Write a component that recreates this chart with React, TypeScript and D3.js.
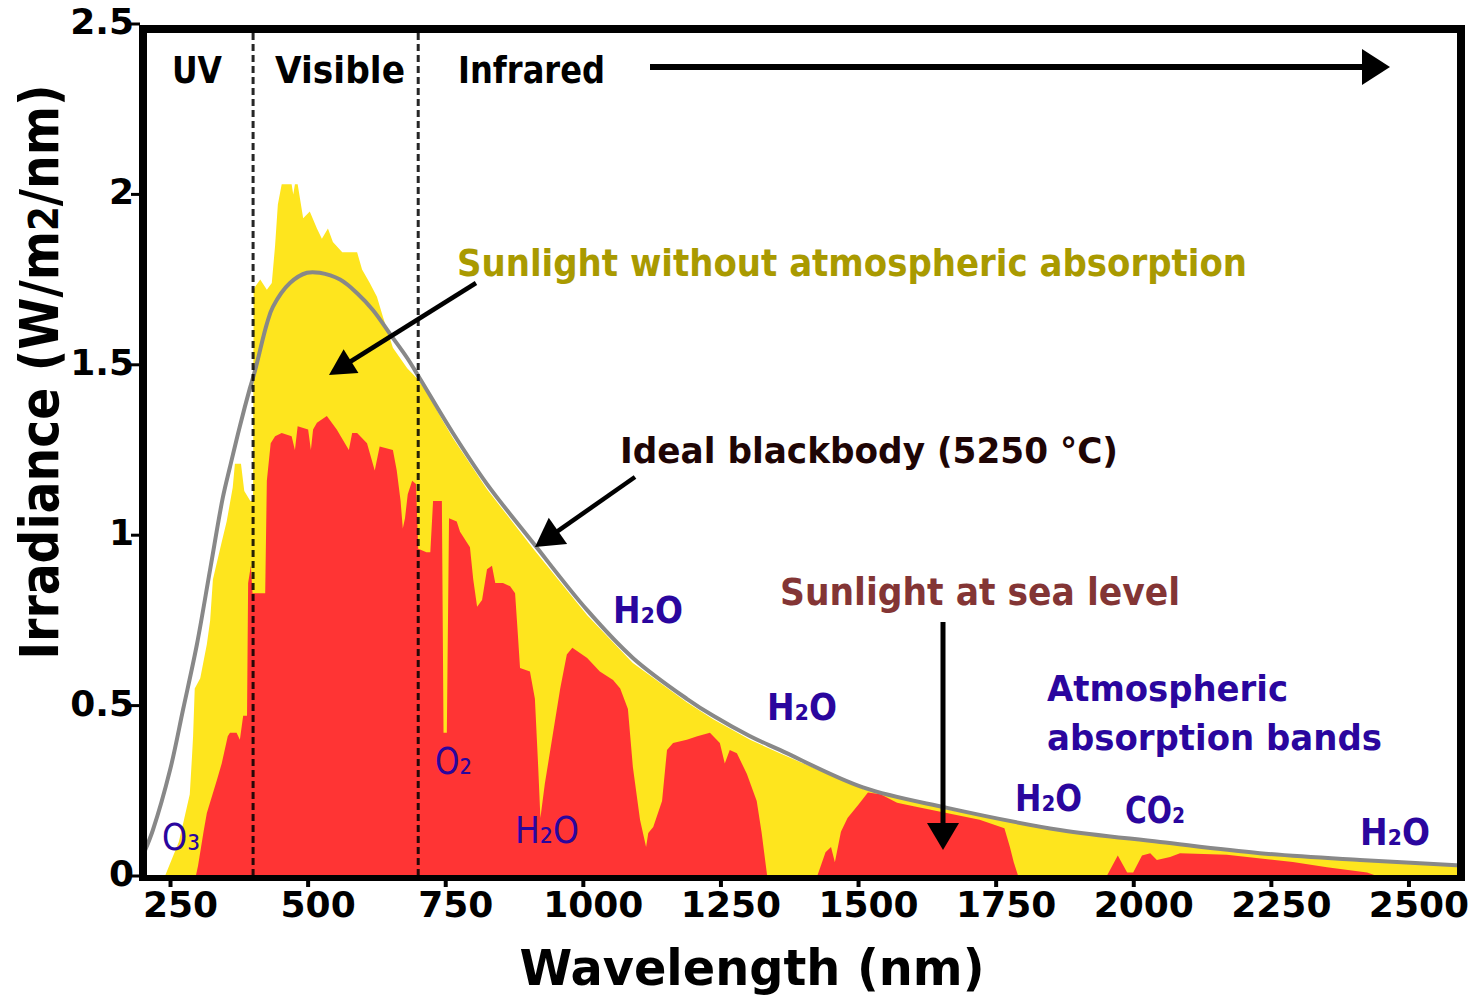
import React from "react";
import * as d3 from "d3";

// Spectral irradiance readings, [wavelength nm, W/m2/nm]
const blackbody: [number, number][] = [
  [204, 0.076], [218, 0.135], [249, 0.31], [273, 0.49], [298, 0.68], [322, 0.9],
  [345, 1.11], [358, 1.2], [376, 1.32], [394, 1.43], [403, 1.48], [425, 1.62],
  [436, 1.67], [467, 1.74], [498, 1.77], [521, 1.77], [558, 1.75], [589, 1.71],
  [618, 1.66], [649, 1.59], [680, 1.52], [703, 1.46], [763, 1.3], [825, 1.15],
  [909, 0.977], [1007, 0.78], [1090, 0.64], [1188, 0.52], [1236, 0.47], [1303, 0.41],
  [1357, 0.37], [1508, 0.26], [1661, 0.2], [1866, 0.135], [2048, 0.1], [2229, 0.067],
  [2411, 0.047], [2596, 0.031],
];

const topOfAtmosphere: [number, number][] = [
  [240, 0], [254, 0.056], [265, 0.1], [273, 0.155], [285, 0.24], [289, 0.35],
  [291, 0.41], [294, 0.55], [304, 0.58], [316, 0.68], [322, 0.75], [327, 0.87],
  [343, 0.98], [352, 1.04], [363, 1.14], [367, 1.21], [378, 1.21], [384, 1.13],
  [395, 1.1], [400, 1.1], [401, 1.72], [404, 1.73], [413, 1.75], [425, 1.72],
  [434, 1.74], [440, 1.85], [445, 1.97], [452, 2.03], [470, 2.03], [473, 2.0],
  [476, 2.03], [481, 2.03], [491, 1.93], [503, 1.95], [516, 1.9], [525, 1.87],
  [536, 1.9], [545, 1.86], [562, 1.83], [589, 1.83], [598, 1.78], [612, 1.74],
  [625, 1.7], [636, 1.64], [654, 1.55], [680, 1.49], [698, 1.46], [716, 1.42],
  [743, 1.34], [763, 1.285], [825, 1.135], [909, 0.96], [1007, 0.765], [1090, 0.625],
  [1188, 0.51], [1236, 0.46], [1303, 0.4], [1357, 0.36], [1508, 0.255], [1661, 0.195],
  [1866, 0.132], [2048, 0.098], [2229, 0.066], [2411, 0.046], [2600, 0.03],
];

const seaLevel: [number, number][] = [
  [296, 0], [300, 0.03], [310, 0.13], [316, 0.185], [334, 0.28], [343, 0.33],
  [354, 0.41], [358, 0.42], [370, 0.42], [376, 0.4], [382, 0.47], [389, 0.47],
  [391, 0.86], [396, 0.91], [399, 0.83], [412, 0.83], [422, 0.83], [425, 1.16],
  [432, 1.27], [440, 1.29], [452, 1.3], [470, 1.29], [476, 1.25], [481, 1.32],
  [500, 1.31], [505, 1.25], [509, 1.31], [516, 1.33], [534, 1.35], [552, 1.31],
  [574, 1.25], [580, 1.3], [589, 1.3], [607, 1.27], [621, 1.19], [630, 1.26],
  [654, 1.25], [661, 1.19], [668, 1.1], [672, 1.02], [676, 1.05], [681, 1.12],
  [689, 1.16], [696, 1.15], [700, 0.96], [715, 0.95], [722, 0.95], [727, 1.1],
  [743, 1.1], [746, 0.42], [752, 0.42], [756, 1.05], [770, 1.04], [776, 1.01],
  [794, 0.965], [800, 0.87], [807, 0.79], [816, 0.81], [825, 0.9], [834, 0.91],
  [840, 0.86], [854, 0.86], [867, 0.85], [876, 0.83], [881, 0.71], [885, 0.61],
  [903, 0.6], [912, 0.52], [918, 0.32], [922, 0.17], [930, 0.27], [945, 0.42],
  [958, 0.55], [970, 0.65], [980, 0.67], [1007, 0.64], [1030, 0.6], [1054, 0.575],
  [1067, 0.55], [1081, 0.49], [1090, 0.32], [1103, 0.165], [1114, 0.085], [1118, 0.126],
  [1127, 0.144], [1143, 0.22], [1152, 0.37], [1163, 0.39], [1188, 0.4], [1207, 0.41],
  [1230, 0.42], [1248, 0.39], [1257, 0.33], [1266, 0.37], [1279, 0.36], [1297, 0.3],
  [1315, 0.22], [1324, 0.126], [1334, 0], [1425, 0], [1440, 0.07], [1450, 0.085],
  [1457, 0.04], [1468, 0.13], [1480, 0.17], [1500, 0.21], [1517, 0.245], [1540, 0.24],
  [1570, 0.215], [1600, 0.205], [1660, 0.185], [1720, 0.165], [1765, 0.14], [1775, 0.085],
  [1782, 0.04], [1790, 0], [1951, 0], [1971, 0.06], [1988, 0.01], [1999, 0.01],
  [2015, 0.06], [2030, 0.067], [2042, 0.047], [2066, 0.056], [2084, 0.067], [2169, 0.062],
  [2289, 0.041], [2351, 0.026], [2424, 0.01], [2442, 0],
];

const wavelengthTicks = [250, 500, 750, 1000, 1250, 1500, 1750, 2000, 2250, 2500];
const irradianceTicks = [0, 0.5, 1, 1.5, 2, 2.5];
const irradianceLabels = ["0", "0.5", "1", "1.5", "2", "2.5"];
const bandEdges = [400, 700];

const FONT = "'DejaVu Sans', Verdana, sans-serif";
const BLUE = "#2a069e";

// Chemical formula label, subscripts written with Unicode subscript digits
function Chem({ x, y, label, width, bold = true, size = 38 }:
  { x: number; y: number; label: string; width: number; bold?: boolean; size?: number }) {
  return (
    <text x={x} y={y} fill={BLUE} fontFamily={FONT} fontWeight={bold ? 700 : 400} fontSize={size}
      textLength={width} lengthAdjust="spacingAndGlyphs">{label}</text>
  );
}

function Arrow({ x1, y1, x2, y2, len, width, sw }:
  { x1: number; y1: number; x2: number; y2: number; len: number; width: number; sw: number }) {
  const dx = x2 - x1, dy = y2 - y1;
  const d = Math.hypot(dx, dy);
  const ux = dx / d, uy = dy / d;
  const bx = x2 - ux * len, by = y2 - uy * len;
  const px = -uy * width / 2, py = ux * width / 2;
  return (
    <g>
      <line x1={x1} y1={y1} x2={bx + ux * 2} y2={by + uy * 2} stroke="#000" strokeWidth={sw} />
      <polygon points={`${x2},${y2} ${bx + px},${by + py} ${bx - px},${by - py}`} fill="#000" />
    </g>
  );
}

export default function App() {
  const x = d3.scaleLinear().domain([200, 2600]).range([143, 1464]);
  const y = d3.scaleLinear().domain([0, 2.5]).range([876, 24]);

  const area = d3.area<[number, number]>()
    .x((d) => x(d[0])).y0(y(0)).y1((d) => y(d[1]));
  const line = d3.line<[number, number]>()
    .x((d) => x(d[0])).y((d) => y(d[1])).curve(d3.curveCatmullRom.alpha(0.5));

  return (
    <svg width={1481} height={997} style={{ position: "absolute", left: 0, top: 0, display: "block" }}
      fontFamily={FONT}>
      <rect width={1481} height={997} fill="#fff" />
      <defs>
        <clipPath id="plot">
          <rect x={143} y={29} width={1318} height={849} />
        </clipPath>
      </defs>

      <g clipPath="url(#plot)">
        <path d={area(topOfAtmosphere) ?? ""} fill="#fee51e" />
        <path d={area(seaLevel) ?? ""} fill="#ff3434" />
        <path d={line(blackbody) ?? ""} fill="none" stroke="#888" strokeWidth={4} />
        {bandEdges.map((b) => (
          <line key={b} x1={x(b)} x2={x(b)} y1={33} y2={876} stroke="#000" strokeOpacity={0.85}
            strokeWidth={3} strokeDasharray="7 4" />
        ))}
      </g>

      {/* frame */}
      <g stroke="#000">
        <line x1={143} x2={143} y1={25} y2={881} strokeWidth={8} />
        <line x1={139} x2={1465} y1={29} y2={29} strokeWidth={8} />
        <line x1={1461} x2={1461} y1={25} y2={881} strokeWidth={8} />
        <line x1={139} x2={1465} y1={878} y2={878} strokeWidth={6} />
      </g>

      {/* y axis */}
      {irradianceTicks.map((t, i) => (
        <g key={t}>
          <line x1={131} x2={140} y1={y(t)} y2={y(t)} stroke="#000" strokeWidth={3} />
          <text x={134} y={y(t) + 10} textAnchor="end" fontSize={36} fontWeight={700}>
            {irradianceLabels[i]}
          </text>
        </g>
      ))}

      {/* x axis */}
      {wavelengthTicks.map((t) => (
        <g key={t}>
          <line x1={x(t)} x2={x(t)} y1={880} y2={887} stroke="#000" strokeWidth={4} />
          <text x={x(t) + 10} y={917} textAnchor="middle" fontSize={36} fontWeight={700}>{t}</text>
        </g>
      ))}

      <text x={752} y={985} textAnchor="middle" fontSize={50} fontWeight={700}
        textLength={465} lengthAdjust="spacingAndGlyphs">Wavelength (nm)</text>
      <text transform="translate(58,372) rotate(-90)" textAnchor="middle" fontSize={53} fontWeight={700}
        textLength={575} lengthAdjust="spacingAndGlyphs">
        Irradiance (W/m<tspan fontSize={40}>2</tspan>/nm)
      </text>

      {/* spectral regions */}
      <g fontSize={38} fontWeight={700} fill="#000">
        <text x={172} y={83} textLength={50} lengthAdjust="spacingAndGlyphs">UV</text>
        <text x={275} y={83} textLength={130} lengthAdjust="spacingAndGlyphs">Visible</text>
        <text x={458} y={83} textLength={147} lengthAdjust="spacingAndGlyphs">Infrared</text>
      </g>
      <Arrow x1={650} y1={67} x2={1390} y2={67} len={28} width={36} sw={6} />

      {/* annotations */}
      <text x={457} y={276} fontSize={38} fontWeight={700} fill="#a99a00"
        textLength={790} lengthAdjust="spacingAndGlyphs">Sunlight without atmospheric absorption</text>
      <Arrow x1={476} y1={283} x2={329} y2={375} len={26} width={28} sw={4.5} />

      <text x={620} y={463} fontSize={36} fontWeight={700} fill="#1e0505"
        textLength={498} lengthAdjust="spacingAndGlyphs">Ideal blackbody (5250 °C)</text>
      <Arrow x1={635} y1={477} x2={535} y2={547} len={28} width={32} sw={4.5} />

      <text x={780} y={605} fontSize={37} fontWeight={700} fill="#833535"
        textLength={400} lengthAdjust="spacingAndGlyphs">Sunlight at sea level</text>
      <Arrow x1={943} y1={622} x2={943} y2={850} len={27} width={32} sw={5} />

      <g fontSize={35} fontWeight={700} fill={BLUE}>
        <text x={1047} y={701} textLength={241} lengthAdjust="spacingAndGlyphs">Atmospheric</text>
        <text x={1047} y={750} textLength={335} lengthAdjust="spacingAndGlyphs">absorption bands</text>
      </g>

      {/* absorbing molecules */}
      <Chem x={613} y={623} label="H₂O" width={70} />
      <Chem x={767} y={720} label="H₂O" width={70} />
      <Chem x={1015} y={811} label="H₂O" width={67} />
      <Chem x={1360} y={845} label="H₂O" width={70} />
      <Chem x={1125} y={823} label="CO₂" width={60} />
      <Chem x={515} y={843} label="H₂O" width={64} bold={false} />
      <Chem x={162} y={850} label="O₃" width={38} bold={false} />
      <Chem x={435} y={774} label="O₂" width={37} bold={false} />
    </svg>
  );
}
